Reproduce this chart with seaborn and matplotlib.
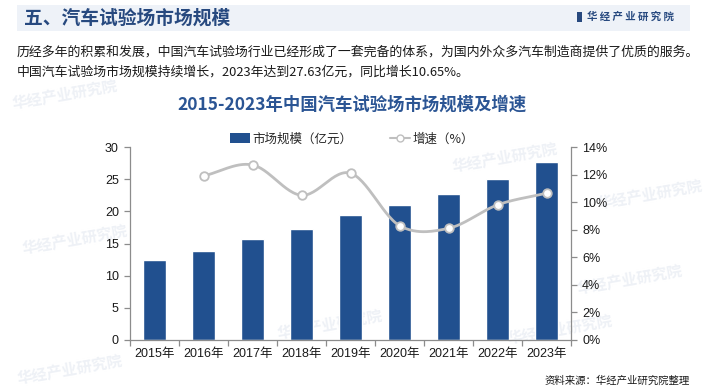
import numpy as np
import pandas as pd
import matplotlib
matplotlib.use("Agg")
import matplotlib.pyplot as plt
from matplotlib.patches import Patch, Rectangle
from matplotlib.lines import Line2D
import seaborn as sns

years = ["2015年", "2016年", "2017年", "2018年", "2019年", "2020年", "2021年", "2022年", "2023年"]
market_size = [12.5, 13.9, 15.7, 17.3, 19.5, 21.0, 22.7, 25.1, 27.63]
growth_years = ["2016年", "2017年", "2018年", "2019年", "2020年", "2021年", "2022年", "2023年"]
growth = [11.9, 12.7, 10.5, 12.1, 8.3, 8.1, 9.8, 10.65]

sns.set_theme(style="white")
plt.rcParams['font.family'] = ['Noto Sans CJK SC', 'DejaVu Sans']
plt.rcParams['axes.unicode_minus'] = False

BAR = "#21508f"
GRAY = "#bfbfbf"
AX = "#8c8c8c"
TITLE = "#2b5594"
NUMF = ['Liberation Sans', 'Noto Sans CJK SC']

fig = plt.figure(figsize=(7.05, 3.92), dpi=100)
fig.patch.set_facecolor("white")

# header band
fig.patches.append(Rectangle((17/705, 1-31/392), 673/705, 26/392, transform=fig.transFigure,
                             facecolor="#eef2f8", edgecolor="none", zorder=0))
fig.text(24/705, 1-18/392, "五、汽车试验场市场规模", fontsize=13.5, fontweight="bold",
         color="#27497f", va="center", ha="left")
fig.patches.append(Rectangle((577/705, 1-22/392), 5/705, 10/392, transform=fig.transFigure,
                             facecolor="#27497f", edgecolor="none", zorder=2))
fig.text(587/705, 1-17/392, "华 经 产 业 研 究 院", fontsize=7.5, fontweight="bold",
         color="#27497f", va="center", ha="left")

# faint watermarks behind everything
for (wx, wy) in [(65, 95), (505, 158), (75, 240), (330, 325), (560, 330), (650, 195), (70, 370), (630, 280)]:
    fig.text(wx/705, 1-wy/392, "华经产业研究院", fontsize=11, fontweight="bold", color="#eef1f6",
             rotation=10, ha="center", va="center", zorder=-5)

fig.text(17/705, 1-52/392, "历经多年的积累和发展，中国汽车试验场行业已经形成了一套完备的体系，为国内外众多汽车制造商提供了优质的服务。",
         fontsize=9.3, color="#1a1a1a", va="center", ha="left")
fig.text(17/705, 1-72/392, "中国汽车试验场市场规模持续增长，2023年达到27.63亿元，同比增长10.65%。",
         fontsize=9.3, color="#1a1a1a", va="center", ha="left")

fig.text(352/705, 1-105/392, "2015-2023年中国汽车试验场市场规模及增速", fontsize=12.5,
         fontweight="bold", color=TITLE, ha="center", va="center")

fig.text(690/705, 1-381/392, "资料来源：华经产业研究院整理", fontsize=7.5, color="#1a1a1a",
         ha="right", va="center")

ax = fig.add_axes([130/705, 1-340/392, 441/705, 193/392])
ax.set_facecolor("none")
df = pd.DataFrame({"year": years, "size": market_size})
sns.barplot(data=df, x="year", y="size", color=BAR, width=0.45, ax=ax, saturation=1, zorder=2)
ax.set_xlim(-0.5, len(years)-0.5)
ax.set_ylim(0, 30)
ax.set_yticks([0, 5, 10, 15, 20, 25, 30])
ax.set_xlabel("")
ax.set_ylabel("")
for sp in ["top", "right"]:
    ax.spines[sp].set_visible(False)
for sp in ["left", "bottom"]:
    ax.spines[sp].set_color(AX)
    ax.spines[sp].set_linewidth(0.9)
ax.tick_params(axis="y", which="major", direction="out", length=4, color=AX, width=0.9,
               labelsize=9, labelcolor="#1a1a1a", pad=4, left=True)
ax.set_xticks(np.arange(-0.5, len(years)), minor=True)
ax.tick_params(axis="x", which="major", length=0, labelsize=9, labelcolor="#1a1a1a", pad=6)
ax.tick_params(axis="x", which="minor", direction="out", length=4, color=AX, width=0.9, bottom=True)
for lab in ax.get_xticklabels() + ax.get_yticklabels():
    lab.set_family(NUMF)

ax2 = ax.twinx()
ax2.set_ylim(0, 14)
ax2.set_yticks(np.arange(0, 15, 2))
ax2.set_yticklabels([f"{v}%" for v in range(0, 15, 2)])
for sp in ["top", "left", "bottom"]:
    ax2.spines[sp].set_visible(False)
ax2.spines["right"].set_color(AX)
ax2.spines["right"].set_linewidth(0.9)
ax2.tick_params(axis="y", direction="out", length=4, color=AX, width=0.9, labelsize=9,
                labelcolor="#1a1a1a", pad=4, right=True)
for lab in ax2.get_yticklabels():
    lab.set_family(NUMF)

# smooth curve (Catmull-Rom through the data points)
gx = np.array([years.index(y) for y in growth_years], dtype=float)
gy = np.array(growth, dtype=float)
px = np.concatenate([[2*gx[0]-gx[1]], gx, [2*gx[-1]-gx[-2]]])
py = np.concatenate([[2*gy[0]-gy[1]], gy, [2*gy[-1]-gy[-2]]])
cx, cy = [], []
t = np.linspace(0, 1, 30)
for i in range(1, len(px)-2):
    for arr, out in ((px, cx), (py, cy)):
        p0, p1, p2, p3 = arr[i-1], arr[i], arr[i+1], arr[i+2]
        out.extend(0.5*((2*p1) + (-p0+p2)*t + (2*p0-5*p1+4*p2-p3)*t**2 + (-p0+3*p1-3*p2+p3)*t**3))
ax2.plot(cx, cy, color=GRAY, lw=2, zorder=3, solid_capstyle="round")
sns.scatterplot(x=gx, y=gy, ax=ax2, s=38, color="white", edgecolor=GRAY, linewidth=1.3, zorder=4)
ax2.set_xlim(-0.5, len(years)-0.5)

handles = [Patch(facecolor=BAR, edgecolor="none"),
           Line2D([0], [0], color=GRAY, lw=1.5, marker="o", markersize=5,
                  markerfacecolor="white", markeredgecolor=GRAY)]
fig.legend(handles, ["市场规模（亿元）", "增速（%）"], loc="center", bbox_to_anchor=(352/705, 1-139/392),
           ncol=2, frameon=False, fontsize=9, handlelength=1.6, handleheight=0.8, columnspacing=3.0,
           handletextpad=0.2)

fig.savefig("out.png", dpi=100, facecolor="white")
